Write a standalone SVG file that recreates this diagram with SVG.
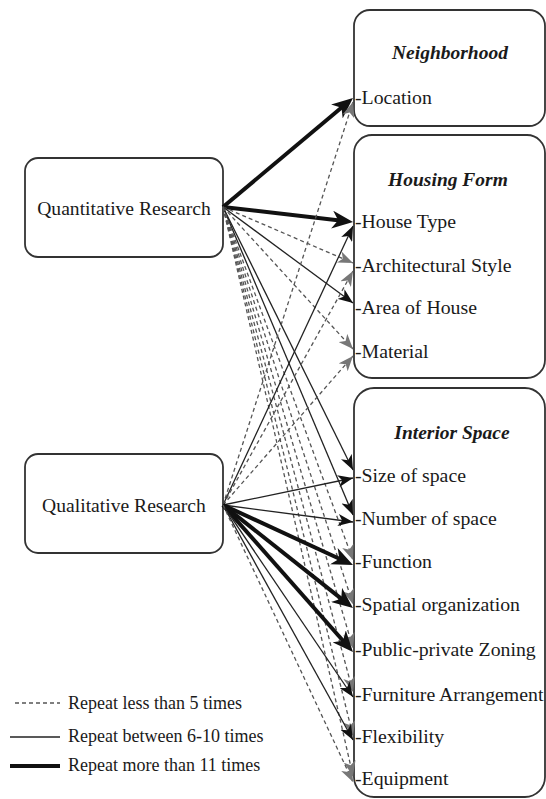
<svg xmlns="http://www.w3.org/2000/svg" width="546" height="799" viewBox="0 0 546 799" font-family="'Liberation Serif', 'DejaVu Serif', serif">
<style>
.box{fill:#fff;stroke:#333;stroke-width:1.8}
text{font-family:'Liberation Serif','DejaVu Serif',serif}
.lbl{font-size:19.8px;fill:#1a1a1a}
.src{font-size:19.6px;fill:#1a1a1a}
.ttl{font-size:19.5px;font-weight:bold;font-style:italic;fill:#1a1a1a}
.leg{font-size:18px;fill:#1a1a1a}
.thick{stroke:#111;stroke-width:4;fill:none}
.thin{stroke:#222;stroke-width:1.3;fill:none}
.dash{stroke:#555;stroke-width:1.3;stroke-dasharray:4 3;fill:none}
</style>
<defs>
<marker id="mThick" markerUnits="userSpaceOnUse" markerWidth="22" markerHeight="18" refX="12" refY="9" orient="auto"><path d="M0,0 L21,9 L0,18 L6,9 z" fill="#111"/></marker>
<marker id="mThin" markerUnits="userSpaceOnUse" markerWidth="16" markerHeight="12" refX="15" refY="6" orient="auto"><path d="M0,0 L15,6 L0,12 L4,6 z" fill="#111"/></marker>
<marker id="mDash" markerUnits="userSpaceOnUse" markerWidth="16" markerHeight="12" refX="15" refY="6" orient="auto"><path d="M0,0 L15,6 L0,12 L4,6 z" fill="#777"/></marker>
</defs>
<rect width="546" height="799" fill="#fff"/>

<g id="quantitative">
<rect class="box" x="25" y="158" width="198" height="99" rx="13"/>
<text class="src" x="124" y="215" text-anchor="middle">Quantitative Research</text>
</g>
<g id="qualitative">
<rect class="box" x="25" y="454" width="198" height="99" rx="13"/>
<text class="src" x="124" y="512" text-anchor="middle">Qualitative Research</text>
</g>
<g id="neighborhood">
<rect class="box" x="354" y="10" width="191" height="116" rx="16"/>
<text class="ttl" x="450" y="59" text-anchor="middle">Neighborhood</text>
<text class="lbl" x="355" y="104">-Location</text>
</g>
<g id="housing-form">
<rect class="box" x="354" y="135" width="191" height="243" rx="18"/>
<text class="ttl" x="448" y="186" text-anchor="middle">Housing Form</text>
<text class="lbl" x="355" y="228">-House Type</text>
<text class="lbl" x="355" y="272">-Architectural Style</text>
<text class="lbl" x="355" y="314">-Area of House</text>
<text class="lbl" x="355" y="358">-Material</text>
</g>
<g id="interior-space">
<rect class="box" x="354" y="388" width="191" height="409" rx="20"/>
<text class="ttl" x="452" y="439" text-anchor="middle">Interior Space</text>
<text class="lbl" x="355" y="482">-Size of space</text>
<text class="lbl" x="355" y="525">-Number of space</text>
<text class="lbl" x="355" y="568">-Function</text>
<text class="lbl" x="355" y="611">-Spatial organization</text>
<text class="lbl" x="355" y="656">-Public-private Zoning</text>
<text class="lbl" x="355" y="701">-Furniture Arrangement</text>
<text class="lbl" x="355" y="743">-Flexibility</text>
<text class="lbl" x="355" y="785">-Equipment</text>
</g>

<g id="connectors">
<line class="thick" x1="223" y1="207" x2="346.1" y2="103.8" marker-end="url(#mThick)"/>
<line class="thick" x1="223" y1="207" x2="344.1" y2="221" marker-end="url(#mThick)"/>
<line class="dash" x1="223" y1="207" x2="353" y2="263" marker-end="url(#mDash)"/>
<line class="thin" x1="223" y1="207" x2="353" y2="303" marker-end="url(#mThin)"/>
<line class="dash" x1="223" y1="207" x2="353" y2="349" marker-end="url(#mDash)"/>
<line class="thin" x1="223" y1="207" x2="353" y2="470" marker-end="url(#mThin)"/>
<line class="thin" x1="223" y1="207" x2="353" y2="515" marker-end="url(#mThin)"/>
<line class="dash" x1="223" y1="207" x2="353" y2="560" marker-end="url(#mDash)"/>
<line class="dash" x1="223" y1="207" x2="353" y2="604" marker-end="url(#mDash)"/>
<line class="dash" x1="223" y1="207" x2="353" y2="648" marker-end="url(#mDash)"/>
<line class="dash" x1="223" y1="207" x2="353" y2="692" marker-end="url(#mDash)"/>
<line class="dash" x1="223" y1="207" x2="353" y2="736" marker-end="url(#mDash)"/>
<line class="dash" x1="223" y1="207" x2="353" y2="776" marker-end="url(#mDash)"/>
<line class="dash" x1="223" y1="505" x2="353" y2="102" marker-end="url(#mDash)"/>
<line class="thin" x1="223" y1="505" x2="353" y2="226" marker-end="url(#mThin)"/>
<line class="dash" x1="223" y1="505" x2="353" y2="271" marker-end="url(#mDash)"/>
<line class="dash" x1="223" y1="505" x2="353" y2="356" marker-end="url(#mDash)"/>
<line class="thin" x1="223" y1="505" x2="353" y2="478" marker-end="url(#mThin)"/>
<line class="thin" x1="223" y1="505" x2="353" y2="522" marker-end="url(#mThin)"/>
<line class="thick" x1="223" y1="505" x2="344.8" y2="561.2" marker-end="url(#mThick)"/>
<line class="thick" x1="223" y1="505" x2="345.9" y2="602.4" marker-end="url(#mThick)"/>
<line class="thick" x1="223" y1="505" x2="347" y2="645.3" marker-end="url(#mThick)"/>
<line class="thin" x1="223" y1="505" x2="353" y2="697" marker-end="url(#mThin)"/>
<line class="thin" x1="223" y1="505" x2="353" y2="740" marker-end="url(#mThin)"/>
<line class="dash" x1="223" y1="505" x2="353" y2="782" marker-end="url(#mDash)"/>
</g>

<g id="legend">
<line class="dash" x1="15" y1="703" x2="60" y2="703"/>
<text class="leg" x="68" y="709">Repeat less than 5 times</text>
<line class="thin" x1="10" y1="737" x2="60" y2="737"/>
<text class="leg" x="68" y="742">Repeat between 6-10 times</text>
<line class="thick" x1="10" y1="766" x2="60" y2="766"/>
<text class="leg" x="68" y="771">Repeat more than 11 times</text>
</g>
</svg>
